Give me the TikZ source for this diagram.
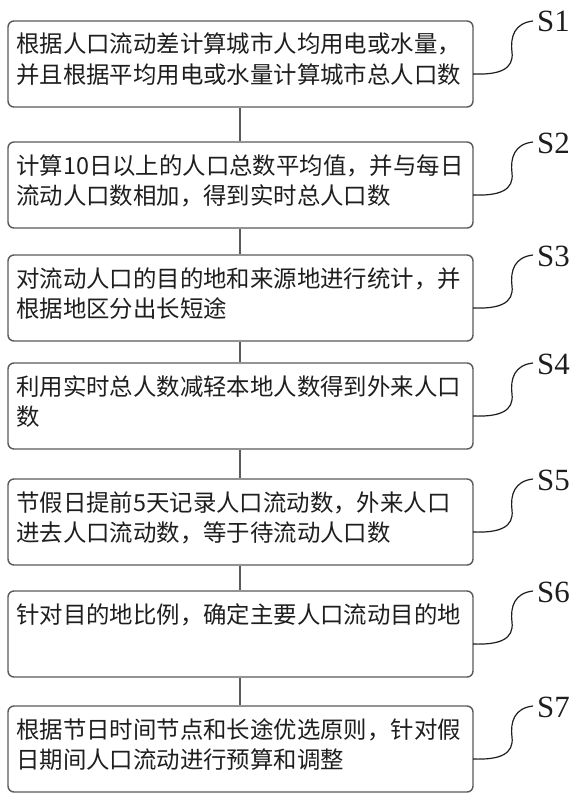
\documentclass[tikz,border=0pt]{standalone}
\usepackage{fontspec}
\setmainfont{Liberation Serif}
\newfontfamily\cjk{Noto Sans CJK SC}
\definecolor{boxline}{RGB}{90,90,90}
\definecolor{txt}{RGB}{30,30,30}
\tikzset{
  stepbox/.style={draw=boxline, line width=1.4bp, rounded corners=6bp, fill=white,
    minimum width=465bp, minimum height=86bp, inner sep=0pt},
  line/.style={anchor=base west, inner sep=0pt, text=txt, font=\cjk\fontsize{23.5}{30}\selectfont},
  lab/.style={anchor=base west, inner sep=0pt, text=txt, font=\fontsize{31}{31}\selectfont},
  conn/.style={draw=boxline, line width=1.3bp},
  wiggle/.style={draw=txt, line width=1.2bp}
}
\begin{document}
\begin{tikzpicture}[x=1bp,y=-1bp]
\useasboundingbox (0,0) rectangle (582,800);
% boxes: top positions
\foreach \n/\t in {1/21,2/142,3/255,4/363,5/479,6/591,7/706}{
  \node[stepbox] (b\n) at (240.5,\t+43) {};
  \coordinate (s\n) at (473,\t+53);
  \coordinate (e\n) at (533,\t);
  \draw[wiggle] (s\n) .. controls (500,\t+54) and (514,\t+48) .. (512,\t+31)
        .. controls (510,\t+15) and (515,\t+2) .. (e\n);
  \node[lab] (l\n) at (537,\t+11) {S\n};
}
\foreach \a/\b in {1/2,2/3,3/4,4/5,5/6,6/7}{
  \draw[conn] (b\a.south -| 240,0) -- (b\b.north -| 240,0);
}
\node[line] (t1a) at (16,21+32) {根据人口流动差计算城市人均用电或水量，};
\node[line] (t1b) at (16,21+62) {并且根据平均用电或水量计算城市总人口数};
\node[line] (t2a) at (16,142+32) {计算10日以上的人口总数平均值，并与每日};
\node[line] (t2b) at (16,142+62) {流动人口数相加，得到实时总人口数};
\node[line] (t3a) at (16,255+32) {对流动人口的目的地和来源地进行统计，并};
\node[line] (t3b) at (16,255+62) {根据地区分出长短途};
\node[line] (t4a) at (16,363+32) {利用实时总人数减轻本地人数得到外来人口};
\node[line] (t4b) at (16,363+62) {数};
\node[line] (t5a) at (16,479+32) {节假日提前5天记录人口流动数，外来人口};
\node[line] (t5b) at (16,479+62) {进去人口流动数，等于待流动人口数};
\node[line] (t6a) at (16,591+32) {针对目的地比例，确定主要人口流动目的地};
\node[line] (t7a) at (16,706+32) {根据节日时间节点和长途优选原则，针对假};
\node[line] (t7b) at (16,706+62) {日期间人口流动进行预算和调整};
\end{tikzpicture}
\end{document}
